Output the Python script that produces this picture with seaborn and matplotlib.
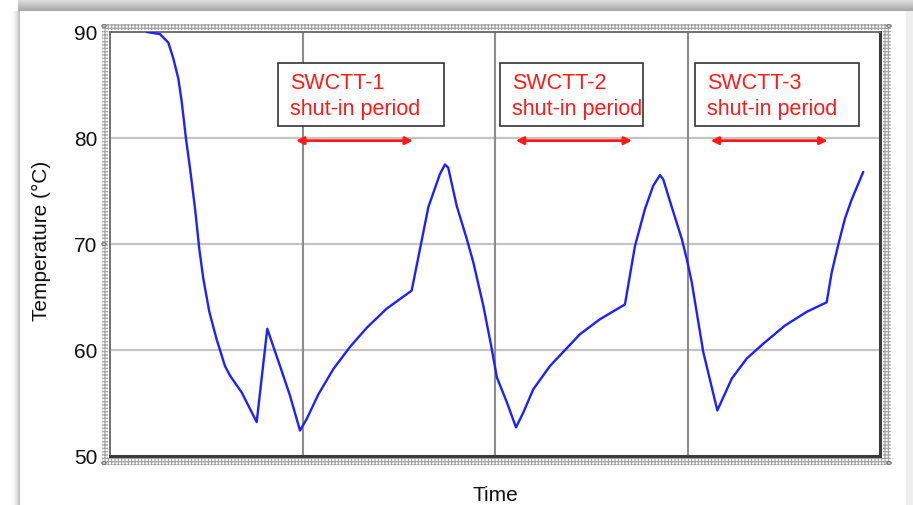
import numpy as np
import pandas as pd
import matplotlib
matplotlib.use("Agg")
import matplotlib.pyplot as plt
from matplotlib.patches import Rectangle, Circle
import seaborn as sns

# Well temperature during three single-well chemical tracer tests
time = [0.191, 0.260, 0.303, 0.329, 0.355, 0.372, 0.395, 0.416, 0.442, 0.464,
        0.485, 0.516, 0.554, 0.597, 0.623, 0.684, 0.762, 0.817, 0.883, 0.935,
        0.987, 1.022, 1.082, 1.160, 1.247, 1.334, 1.437, 1.567, 1.610, 1.654,
        1.714, 1.740, 1.757, 1.801, 1.853, 1.887, 1.939, 1.979, 2.010, 2.061,
        2.109, 2.147, 2.199, 2.286, 2.442, 2.545, 2.675, 2.727, 2.779, 2.822,
        2.857, 2.874, 2.918, 2.970, 2.996, 3.022, 3.082, 3.155, 3.230, 3.308,
        3.394, 3.506, 3.619, 3.723, 3.749, 3.784, 3.818, 3.853, 3.913]
temperature = [90.0, 89.8, 89.0, 87.5, 85.6, 83.5, 79.9, 77.1, 73.3, 69.5,
               66.7, 63.6, 61.0, 58.5, 57.6, 56.0, 53.2, 62.0, 58.5, 55.7,
               52.4, 53.5, 55.8, 58.2, 60.3, 62.1, 63.9, 65.6, 69.5, 73.5,
               76.6, 77.5, 77.2, 73.6, 70.5, 68.3, 64.2, 60.5, 57.4, 55.1,
               52.7, 54.1, 56.3, 58.5, 61.5, 62.9, 64.3, 69.8, 73.3, 75.5,
               76.5, 76.1, 73.5, 70.5, 68.6, 66.4, 59.8, 54.3, 57.3, 59.2,
               60.6, 62.3, 63.6, 64.5, 67.3, 70.0, 72.4, 74.2, 76.8]

# Shut-in periods (start, end) and their labels
shutin_labels = ["SWCTT-1\nshut-in period", "SWCTT-2\nshut-in period",
                 "SWCTT-3\nshut-in period"]
shutin_start = [0.966, 2.108, 3.120]
shutin_end = [1.574, 2.712, 3.728]
label_box_left = [0.873, 2.026, 3.039]
label_box_right = [1.735, 2.767, 3.889]

y_ticks = [50, 60, 70, 80, 90]
x_grid = [1, 2, 3]

sns.set_style("white")
plt.rcParams["font.family"] = ["Liberation Sans", "DejaVu Sans"]
plt.rcParams["hatch.linewidth"] = 0.8

W, H = 913, 506
fig = plt.figure(figsize=(W / 100, H / 100), dpi=100)

# Slide-like backdrop: soft shadow along the top and left edges
bg = np.ones((H, W, 3))
for r in range(12):
    shade = 0.88 - 0.22 * (r / 11.0)
    bg[r, 18:, :] = shade
for c in range(10, 20):
    shade = 1.0 - 0.25 * ((c - 10) / 9.0) ** 2
    bg[12:, c, :] = np.minimum(bg[12:, c, :], shade)
for c in range(906, W):
    bg[12:, c, :] = 0.94
bax = fig.add_axes([0, 0, 1, 1], zorder=-5)
bax.imshow(bg, aspect="auto", extent=[0, W, H, 0])
bax.set_axis_off()

# Plot area in pixel units
L, R, T, B = 110, 880, 33, 457
ax = fig.add_axes([L / W, (H - B) / H, (R - L) / W, (B - T) / H])

df = pd.DataFrame({"Time": time, "Temperature": temperature})
sns.lineplot(data=df, x="Time", y="Temperature", ax=ax, color="#1f1fff",
             linewidth=1.7, zorder=4)

ax.set_xlim(0, 4)
ax.set_ylim(50, 90)
ax.set_yticks(y_ticks)
ax.set_xticks([])
for yv in y_ticks[1:-1]:
    ax.axhline(yv, color="#c4c4c4", lw=1.6, zorder=1)
for xv in x_grid:
    ax.axvline(xv, color="#8c8c8c", lw=1.5, zorder=1)

ax.tick_params(axis="y", length=0, pad=9, labelsize=15, labelcolor="#111111")
ax.set_xlabel("Time", fontsize=15, color="#111111")
ax.set_ylabel("Temperature (°C)", fontsize=15, color="#111111")
ax.xaxis.set_label_coords(0.5, -0.068)
ax.yaxis.set_label_coords(-0.076, 0.51)

for side in ["left", "top"]:
    ax.spines[side].set_color("#666666")
    ax.spines[side].set_linewidth(1.3)
for side in ["right", "bottom"]:
    ax.spines[side].set_color("#3a3a3a")
    ax.spines[side].set_linewidth(2.2)

# Labels and double arrows marking each shut-in period
for lab, s, e, bl, br in zip(shutin_labels, shutin_start, shutin_end,
                            label_box_left, label_box_right):
    ax.add_patch(Rectangle((bl, 81.1), br - bl, 6.0, facecolor="white",
                           edgecolor="#333333", lw=1.2, zorder=5))
    ax.text(bl + 0.062, 84.0, lab, color="#ff1a1a", fontsize=15.5,
            va="center", ha="left", linespacing=1.3, zorder=6)
    ax.annotate("", xy=(e, 79.75), xytext=(s, 79.75),
                arrowprops=dict(arrowstyle="<|-|>", color="#ff1a1a", lw=2,
                                mutation_scale=11, shrinkA=0, shrinkB=0),
                zorder=6)

# Dotted selection frame around the chart
ftr = fig.transFigure
def px_rect(x0, y0, x1, y1):
    return Rectangle((x0 / W, 1 - y1 / H), (x1 - x0) / W, (y1 - y0) / H,
                     transform=ftr, facecolor="white", edgecolor="#a0a0a0",
                     hatch="+++++", lw=0, zorder=10)
for rect in [px_rect(102, 25, 891, 31), px_rect(102, 459, 891, 466),
             px_rect(102, 25, 108, 466), px_rect(883, 25, 891, 466)]:
    fig.patches.append(rect)
for hx, hy in [(104, 27), (104, 464), (104, 245), (889, 27), (889, 464)]:
    fig.patches.append(Circle((hx / W, 1 - hy / H), 2.2 / W, transform=ftr,
                              facecolor="white", edgecolor="#666666", lw=0.8,
                              zorder=11))

fig.savefig("out.png", dpi=100)
